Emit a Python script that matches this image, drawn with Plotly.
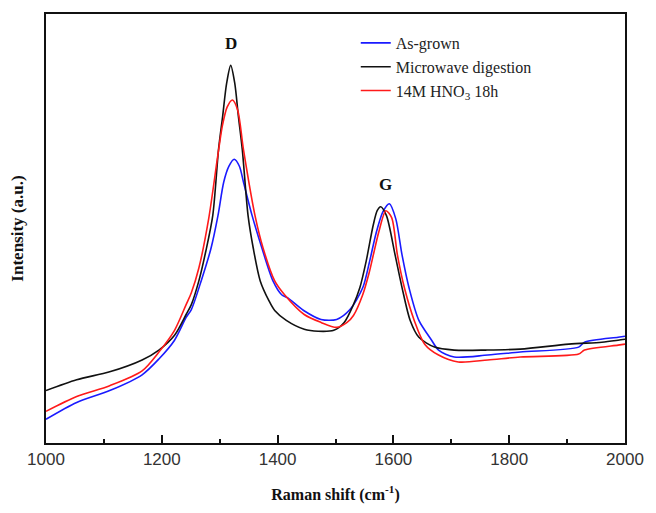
import plotly.graph_objects as go

# Raman spectra of the CNT samples (Raman shift in cm^-1, intensity in arbitrary units)
shift_as_grown = [1000, 1053, 1110, 1166, 1195, 1222, 1242, 1251, 1268, 1285, 1297, 1307,
                  1316, 1325, 1334, 1341, 1356, 1373, 1392, 1407, 1417, 1445, 1475, 1502,
                  1525, 1547, 1559, 1570, 1582, 1593, 1604, 1615, 1627, 1644, 1666, 1678,
                  1705, 1763, 1819, 1920, 1930, 1988, 2000]
int_as_grown = [32, 49, 61, 77, 93, 112, 135, 143, 172, 205, 238, 272,
                288, 295, 288, 272, 238, 205, 172, 158, 155, 142, 133, 133,
                143, 165, 192, 220, 242, 250, 235, 198, 165, 132, 112, 102,
                95, 97, 100, 105, 110, 115, 116]

shift_microwave = [1000, 1053, 1110, 1166, 1195, 1222, 1242, 1251, 1264, 1276, 1288, 1298,
                   1305, 1312, 1319, 1326, 1332, 1339, 1349, 1358, 1370, 1385, 1395, 1415,
                   1446, 1470, 1497, 1515, 1531, 1542, 1553, 1565, 1572, 1578, 1588, 1603,
                   1615, 1629, 1644, 1671, 1705, 1760, 1819, 1903, 1960, 1988, 2000]
int_microwave = [61, 72, 80, 92, 102, 117, 138, 148, 172, 202, 238, 305,
                 338, 372, 390, 372, 340, 305, 238, 205, 172, 152, 142, 132,
                 123, 121, 122, 130, 148, 165, 192, 228, 243, 247, 238, 198,
                 165, 132, 115, 105, 102, 102, 103, 108, 110, 112, 113]

shift_hno3 = [1000, 1053, 1110, 1166, 1195, 1222, 1242, 1251, 1264, 1281, 1297, 1305,
              1313, 1322, 1331, 1341, 1361, 1375, 1395, 1412, 1446, 1475, 1502, 1520,
              1531, 1547, 1558, 1566, 1575, 1587, 1597, 1607, 1619, 1636, 1654, 1678,
              1712, 1763, 1819, 1920, 1930, 1988, 2000]
int_hno3 = [40, 55, 66, 81, 100, 122, 148, 160, 185, 235, 300, 330,
            348, 355, 345, 305, 238, 205, 172, 158, 138, 130, 125, 130,
            137, 158, 180, 200, 222, 243, 236, 198, 165, 132, 108, 97,
            90, 92, 95, 98, 102, 107, 108]

series = [
    ("As-grown", shift_as_grown, int_as_grown, "#1a1aff"),
    ("Microwave digestion", shift_microwave, int_microwave, "#111111"),
    ("14M HNO<sub>3</sub> 18h", shift_hno3, int_hno3, "#ff1a1a"),
]

peak_labels = ["D", "G"]
peak_x = [1319, 1586]
peak_y = [412, 270]

fig = go.Figure()
for name, x, y, color in series:
    fig.add_trace(go.Scatter(
        x=x, y=y, mode="lines", name=name,
        line=dict(color=color, width=1.6, shape="spline", smoothing=0.8),
    ))

for lab, px, py in zip(peak_labels, peak_x, peak_y):
    fig.add_annotation(x=px, y=py, text=f"<b>{lab}</b>", showarrow=False,
                       font=dict(family="Liberation Serif", size=17, color="#111"))

serif = "Liberation Serif"
fig.update_layout(
    width=656, height=513,
    margin=dict(l=46, r=20, t=13, b=66),
    paper_bgcolor="white", plot_bgcolor="white",
    showlegend=True,
    legend=dict(x=0.535, y=0.972, xanchor="left", yanchor="top",
                bgcolor="rgba(0,0,0,0)", borderwidth=0,
                font=dict(family=serif, size=16, color="#222"),
                tracegroupgap=0),
    xaxis=dict(
        range=[1000, 2000], tickmode="array",
        tickvals=[1000, 1200, 1400, 1600, 1800, 2000],
        ticks="inside", ticklen=8, tickwidth=1.5, tickcolor="#111",
        minor=dict(dtick=100, ticks="inside", ticklen=4, tickwidth=1.5, tickcolor="#111"),
        showline=True, linecolor="#111", linewidth=2, mirror=True,
        showgrid=False, zeroline=False,
        tickfont=dict(family="Liberation Sans", size=17, color="#333"),
        title=dict(text="<b>Raman shift (cm<sup>-1</sup>)</b>",
                   font=dict(family=serif, size=16, color="#111"), standoff=20),
    ),
    yaxis=dict(
        range=[8, 442], showticklabels=False, ticks="",
        showline=True, linecolor="#111", linewidth=2, mirror=True,
        showgrid=False, zeroline=False,
        title=dict(text="<b>Intensity (a.u.)</b>",
                   font=dict(family=serif, size=17, color="#111"), standoff=16),
    ),
)

fig.write_html("out.html")
